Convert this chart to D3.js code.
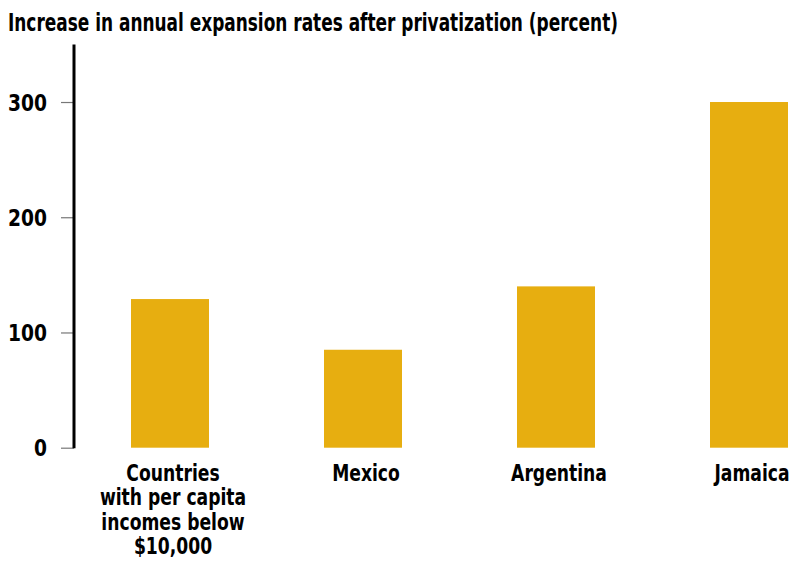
<!DOCTYPE html>
<html><head><meta charset="utf-8">
<script src="https://cdn.jsdelivr.net/npm/d3@7/dist/d3.min.js"></script>
<style>
html,body{margin:0;padding:0;background:#fff;}
text{font-family:"DejaVu Sans Condensed","Liberation Sans Narrow",sans-serif;font-weight:bold;fill:#000;}
</style></head>
<body>
<svg id="c" width="794" height="564"></svg>
<script>
const title = "Increase in annual expansion rates after privatization (percent)";
const categories = [
  ["Countries","with per capita","incomes below","$10,000"],
  ["Mexico"],
  ["Argentina"],
  ["Jamaica"]
];
const values = [129, 85, 140, 300];
const tickValues = [0, 100, 200, 300];
const yMax = 350;

const svg = d3.select("#c");
const y = d3.scaleLinear().domain([0, yMax]).range([447.7, 44.4]);
const x = d3.scaleBand().domain(d3.range(values.length)).range([131, 788])
  .paddingInner(115/193).paddingOuter(0);

const squeeze = 0.83;

// title
svg.append("text").attr("x", 8).attr("y", 31).attr("font-size", 24)
  .text(title)
  .each(function(){ d3.select(this).attr("textLength", 610).attr("lengthAdjust","spacingAndGlyphs"); });

// bars
svg.selectAll("rect.bar").data(values).join("rect")
  .attr("class","bar")
  .attr("x", (d,i)=>x(i)).attr("width", x.bandwidth())
  .attr("y", d=>y(d)).attr("height", d=>y(0)-y(d))
  .attr("fill", "#E7AE10");

// y axis
const ax = svg.append("g").attr("transform","translate(74,0)")
  .call(d3.axisLeft(y).tickValues(tickValues).tickSize(13).tickPadding(14).tickFormat(d3.format("d")));
ax.select(".domain").remove();
ax.selectAll(".tick line").attr("stroke","#777").attr("stroke-width",1.2);
ax.selectAll(".tick text").attr("font-size", 23).attr("fill","#000")
  .attr("font-family",'"DejaVu Sans Condensed","Liberation Sans Narrow",sans-serif')
  .attr("font-weight","bold").attr("dy","0.36em")
  .each(function(d){
    const s = String(d);
    d3.select(this).attr("textLength", s.length*13).attr("lengthAdjust","spacingAndGlyphs");
  });
svg.append("line").attr("x1",74).attr("x2",74).attr("y1",y(yMax)).attr("y2",y(0)+0.5)
  .attr("stroke","#000").attr("stroke-width",3);

// category labels (horizontally condensed via transform)
const lab = svg.selectAll("text.cat").data(categories).join("text")
  .attr("class","cat").attr("text-anchor","middle").attr("font-size",23)
  .attr("transform",(d,i)=>`translate(${x(i)+x.bandwidth()/2+3},481) scale(${squeeze},1)`)
  .attr("x",0).attr("y",0);
lab.selectAll("tspan").data(d=>d).join("tspan")
  .attr("x", 0)
  .attr("dy",(d,i)=>i===0?0:24.3)
  .text(d=>d);
</script>
</body></html>
